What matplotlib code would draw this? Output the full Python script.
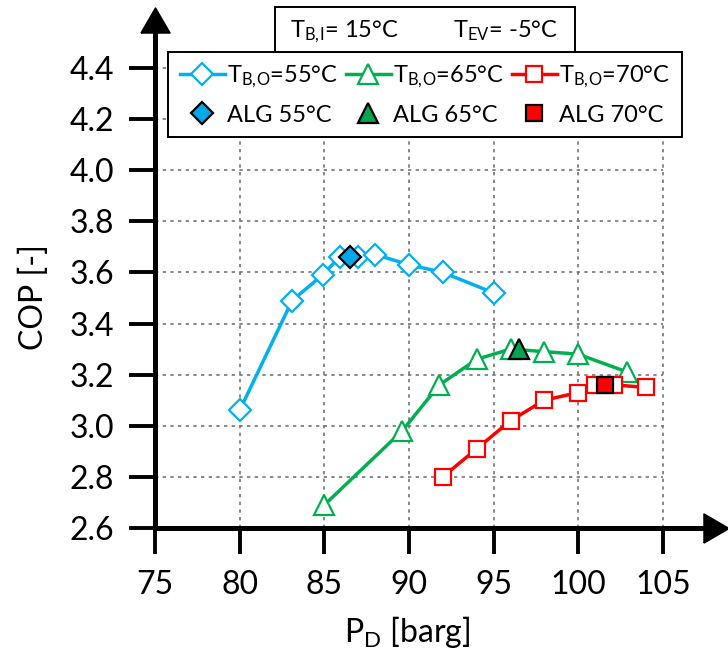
import numpy as np
import matplotlib.pyplot as plt
from matplotlib.patches import Rectangle

plt.rcParams['font.family'] = 'Lato'
plt.rcParams['mathtext.fontset'] = 'custom'
plt.rcParams['mathtext.rm'] = 'Lato'
plt.rcParams['mathtext.it'] = 'Lato:italic'
plt.rcParams['mathtext.bf'] = 'Lato:bold'

## data
pd_55 = [80, 83.1, 84.9, 85.9, 87, 88, 90, 92, 95]
cop_55 = [3.06, 3.49, 3.59, 3.66, 3.66, 3.67, 3.63, 3.60, 3.52]
pd_65 = [85, 89.6, 91.8, 94, 96, 98, 100, 102.9]
cop_65 = [2.69, 2.98, 3.16, 3.26, 3.30, 3.29, 3.28, 3.21]
pd_70 = [92, 94, 96, 98, 100, 101, 102.1, 104]
cop_70 = [2.80, 2.91, 3.02, 3.10, 3.13, 3.16, 3.16, 3.15]
alg_pd = [86.5, 96.5, 101.6]
alg_cop = [3.66, 3.30, 3.16]

xticks = [75, 80, 85, 90, 95, 100, 105]
yticks = [2.6, 2.8, 3.0, 3.2, 3.4, 3.6, 3.8, 4.0, 4.2, 4.4]

c55, c65, c70 = '#00B0F0', '#00B050', '#FF0000'
f55, f65, f70 = '#00A8E8', '#00A550', '#FF0000'

fig = plt.figure(figsize=(7.28, 6.57), dpi=100)
ax = fig.add_axes([155/728, 129/657, 561/728, 508/657])

# dotted grid, only inside the ticked range
grid_kw = dict(colors='#747474', linestyles=(0, (2, 2.6)), linewidth=1.2, zorder=0)
ax.vlines(xticks[1:], yticks[0], yticks[-1], **grid_kw)
ax.hlines(yticks[1:], xticks[0], xticks[-1], **grid_kw)

l55, = ax.plot(pd_55, cop_55, '-D', color=c55, lw=2.5, ms=11, mfc='white', mew=1.6, zorder=3)
l65, = ax.plot(pd_65, cop_65, '-^', color=c65, lw=2.5, ms=14, mfc='white', mew=1.6, zorder=3)
l70, = ax.plot(pd_70, cop_70, '-s', color=c70, lw=2.5, ms=11, mfc='white', mew=1.6, zorder=3)
a55, = ax.plot(alg_pd[0], alg_cop[0], 'D', ls='none', ms=11, mfc=f55, mec='black', mew=1.6, zorder=4)
a65, = ax.plot(alg_pd[1], alg_cop[1], '^', ls='none', ms=14, mfc=f65, mec='black', mew=1.6, zorder=4)
a70, = ax.plot(alg_pd[2], alg_cop[2], 's', ls='none', ms=11, mfc=f70, mec='black', mew=1.6, zorder=4)

ax.set_xlim(75, 75 + 561/16.93)
ax.set_ylim(2.6, 2.6 + 508/255.6)
ax.set_xticks(xticks)
ax.set_yticks(yticks)
ax.set_yticklabels([f'{v:.1f}' for v in yticks])
ax.spines[['top', 'right']].set_visible(False)
for s in ['left', 'bottom']:
    ax.spines[s].set_linewidth(3.6)
ax.tick_params(direction='out', length=18.5, width=2.8, labelsize=23)
ax.tick_params(axis='y', pad=11)
ax.tick_params(axis='x', pad=12)

# arrow heads at the axis ends
arrow_r = [(-0.86, -1), (0.86, 0), (-0.86, 1), (-0.86, -1)]
arrow_u = [(-1, -0.86), (0, 0.86), (1, -0.86), (-1, -0.86)]
ax.plot(1, 0, marker=arrow_r, ms=21, color='black', transform=ax.transAxes, clip_on=False, zorder=5)
ax.plot(0, 1, marker=arrow_u, ms=21, color='black', transform=ax.transAxes, clip_on=False, zorder=5)

ax.set_ylabel('COP [-]', fontsize=23)
ax.yaxis.label.set_va('baseline')
ax.yaxis.set_label_coords((43-155)/561, (528-297)/508)
ax.set_xlabel(r'P$_{\mathrm{D}}$ [barg]', fontsize=23)
ax.xaxis.label.set_va('baseline')
ax.xaxis.set_label_coords((407-155)/561, (528-642)/508)

labels = [r'T$_{\mathrm{B,\!O}}$=55°C', 'ALG 55°C',
          r'T$_{\mathrm{B,\!O}}$=65°C', 'ALG 65°C',
          r'T$_{\mathrm{B,\!O}}$=70°C', 'ALG 70°C']
leg = ax.legend([l55, a55, l65, a65, l70, a70], labels, ncol=3,
                loc='upper left', bbox_to_anchor=(168/728, 1-135/657, 514/728, 83/657),
                bbox_transform=fig.transFigure, mode='expand', borderaxespad=0,
                fontsize=17, handlelength=1.9, handletextpad=0.1, columnspacing=0.8,
                labelspacing=0.6, borderpad=0.5, frameon=True, fancybox=False,
                edgecolor='black', framealpha=1)
leg.get_frame().set_linewidth(1.4)
leg.set_zorder(6)

# conditions box above the legend
fig.add_artist(Rectangle((275/728, 1-52/657), 300/728, 45/657, transform=fig.transFigure,
                         facecolor='white', edgecolor='black', lw=1.4, zorder=5))
fig.text(290/728, 1-37.5/657, r'T$_{\mathrm{B,\!I}}$= 15°C', fontsize=17, va='baseline', zorder=7)
fig.text(453/728, 1-37.5/657, r'T$_{\mathrm{EV}}$= -5°C', fontsize=17, va='baseline', zorder=7)

plt.savefig('out.png', dpi=100)
